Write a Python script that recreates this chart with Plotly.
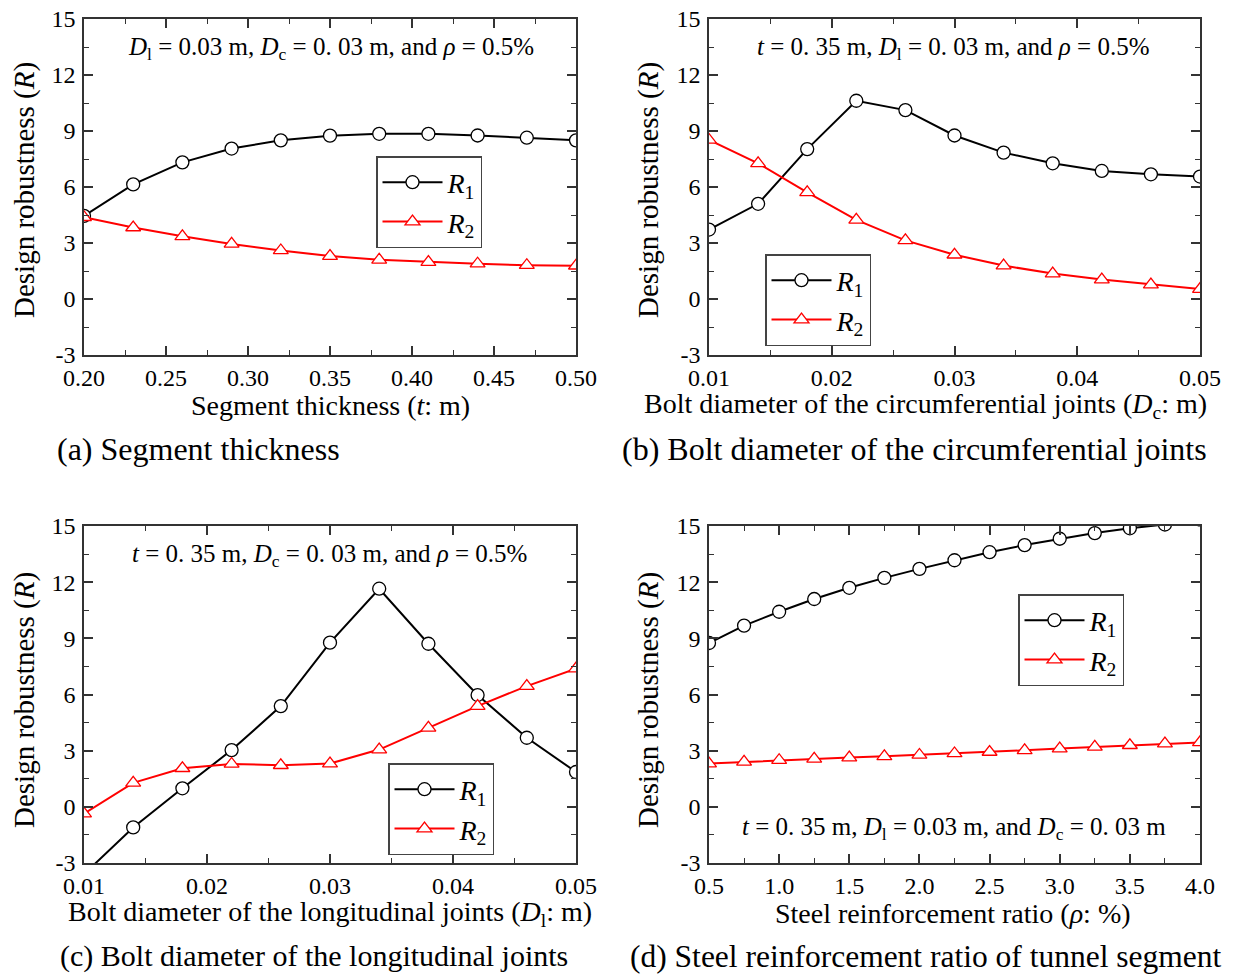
import plotly.graph_objects as go

W, H = 1238, 978

# ---------------- data ----------------
t_vals = [0.20, 0.23, 0.26, 0.29, 0.32, 0.35, 0.38, 0.41, 0.44, 0.47, 0.50]
a_R1 = [4.45, 6.14, 7.32, 8.06, 8.50, 8.75, 8.85, 8.85, 8.76, 8.64, 8.50]
a_R2 = [4.38, 3.83, 3.36, 2.95, 2.60, 2.30, 2.10, 1.98, 1.89, 1.81, 1.78]

dc_vals = [0.010, 0.014, 0.018, 0.022, 0.026, 0.030, 0.034, 0.038, 0.042, 0.046, 0.050]
b_R1 = [3.72, 5.10, 8.03, 10.62, 10.12, 8.76, 7.84, 7.27, 6.86, 6.68, 6.56]
b_R2 = [8.52, 7.27, 5.71, 4.24, 3.14, 2.37, 1.79, 1.36, 1.04, 0.77, 0.53]

dl_vals = [0.010, 0.014, 0.018, 0.022, 0.026, 0.030, 0.034, 0.038, 0.042, 0.046, 0.050]
c_R1 = [-3.6, -1.10, 0.99, 3.03, 5.38, 8.77, 11.65, 8.71, 5.97, 3.69, 1.86]
c_R2 = [-0.36, 1.28, 2.06, 2.29, 2.22, 2.31, 3.06, 4.22, 5.38, 6.45, 7.38]

rho_vals = [0.5, 0.75, 1.0, 1.25, 1.5, 1.75, 2.0, 2.25, 2.5, 2.75, 3.0, 3.25, 3.5, 3.75, 4.0]
d_R1 = [8.75, 9.68, 10.42, 11.10, 11.70, 12.23, 12.71, 13.17, 13.60, 13.98, 14.32, 14.62, 14.88, 15.08, 15.35]
d_R2 = [2.31, 2.40, 2.49, 2.56, 2.63, 2.70, 2.77, 2.85, 2.93, 3.02, 3.11, 3.20, 3.29, 3.38, 3.44]

y_range = [-3, 15]
y_tick_vals = [-3, 0, 3, 6, 9, 12, 15]
y_tick_text = ["-3", "0", "3", "6", "9", "12", "15"]
y_minor_step = 1.5

x_titles = [
    "Segment thickness (<i>t</i>: m)",
    "Bolt diameter of the circumferential joints (<i>D</i><sub>c</sub>: m)",
    "Bolt diameter of the longitudinal joints (<i>D</i><sub>l</sub>: m)",
    "Steel reinforcement ratio (<i>ρ</i>: %)",
]
y_title = "Design robustness (<i>R</i>)"
captions = [
    "(a) Segment thickness",
    "(b) Bolt diameter of the circumferential joints",
    "(c) Bolt diameter of the longitudinal joints",
    "(d) Steel reinforcement ratio of tunnel segment",
]
conditions = [
    "<i>D</i><sub>l</sub> = 0.03 m, <i>D</i><sub>c</sub> = 0. 03 m, and <i>ρ</i> = 0.5%",
    "<i>t</i> = 0. 35 m, <i>D</i><sub>l</sub> = 0. 03 m, and <i>ρ</i> = 0.5%",
    "<i>t</i> = 0. 35 m, <i>D</i><sub>c</sub> = 0. 03 m, and <i>ρ</i> = 0.5%",
    "<i>t</i> = 0. 35 m, <i>D</i><sub>l</sub> = 0.03 m, and <i>D</i><sub>c</sub> = 0. 03 m",
]
names = ["<i>R</i><sub>1</sub>", "<i>R</i><sub>2</sub>"]

# ---------------- layout helpers ----------------
FONT = "Liberation Serif, Times New Roman, serif"
AX = "#333333"

def px(x):
    return x / W

def py(y):
    return 1 - y / H

panels = [
    dict(x=t_vals, r1=a_R1, r2=a_R2, xr=[0.2, 0.5], dt=0.05, t0=0.2, mdt=0.025, fmt=".2f",
         xd=[84, 576], yd=[19, 355], xt=(330, 405), yt=(24, 190), cap=(55, 449), capsize=32,
         cond=(331, 48), leg=(376, 156)),
    dict(x=dc_vals, r1=b_R1, r2=b_R2, xr=[0.01, 0.05], dt=0.01, t0=0.01, mdt=0.005, fmt=".2f",
         xd=[709, 1200], yd=[19, 355], xt=(925, 405), yt=(648, 190), cap=(620, 449), capsize=32,
         cond=(953, 48), leg=(765, 254)),
    dict(x=dl_vals, r1=c_R1, r2=c_R2, xr=[0.01, 0.05], dt=0.01, t0=0.01, mdt=0.005, fmt=".2f",
         xd=[84, 576], yd=[526, 863], xt=(330, 913), yt=(24, 700), cap=(58, 956), capsize=30,
         cond=(329, 555), leg=(388, 763)),
    dict(x=rho_vals, r1=d_R1, r2=d_R2, xr=[0.5, 4.0], dt=0.5, t0=0.5, mdt=0.25, fmt=".1f",
         xd=[709, 1200], yd=[526, 863], xt=(953, 913), yt=(648, 700), cap=(628, 956), capsize=31.5,
         cond=(954, 828), leg=(1018, 594)),
]

fig = go.Figure()
annotations = []
layout = dict(
    width=W, height=H,
    margin=dict(l=0, r=0, t=0, b=0, autoexpand=False),
    paper_bgcolor="white", plot_bgcolor="white",
    font=dict(family=FONT, color="black", size=24),
    showlegend=True,
)

for i, p in enumerate(panels):
    k = "" if i == 0 else str(i + 1)
    xa, ya = "x" + k, "y" + k
    leg = "legend" + k
    fig.add_trace(go.Scatter(
        x=p["x"], y=p["r1"], mode="lines+markers", name=names[0],
        xaxis=xa, yaxis=ya, legend=leg,
        line=dict(color="black", width=2),
        marker=dict(symbol="circle", size=13, color="white", line=dict(color="black", width=1.3)),
    ))
    fig.add_trace(go.Scatter(
        x=p["x"], y=p["r2"], mode="lines+markers", name=names[1],
        xaxis=xa, yaxis=ya, legend=leg,
        line=dict(color="#ff0000", width=2),
        marker=dict(symbol="triangle-up", size=13, color="white", line=dict(color="#ff0000", width=1.3)),
    ))
    common = dict(
        showline=True, linecolor=AX, linewidth=1.5, mirror="allticks",
        ticks="inside", ticklen=9, tickwidth=1.5, tickcolor=AX,
        showgrid=False, zeroline=False, automargin=False,
        tickfont=dict(family=FONT, size=24, color="black"),
    )
    layout["xaxis" + k] = dict(
        common, domain=[px(p["xd"][0]), px(p["xd"][1])], anchor=ya,
        range=p["xr"], tick0=p["t0"], dtick=p["dt"], tickformat=p["fmt"],
        minor=dict(ticks="inside", ticklen=5, tickwidth=1.2, tickcolor=AX, dtick=p["mdt"], tick0=p["t0"]),
    )
    layout["yaxis" + k] = dict(
        common, domain=[py(p["yd"][1]), py(p["yd"][0])], anchor=xa,
        range=y_range, tickmode="array", tickvals=y_tick_vals, ticktext=y_tick_text,
        minor=dict(ticks="inside", ticklen=5, tickwidth=1.2, tickcolor=AX, dtick=y_minor_step, tick0=0),
        ticklabelstandoff=2,
    )
    layout[leg] = dict(
        x=px(p["leg"][0]), y=py(p["leg"][1]), xanchor="left", yanchor="top",
        bgcolor="white", bordercolor="#444444", borderwidth=1.5,
        font=dict(family=FONT, size=28, color="black"),
        itemwidth=60, tracegroupgap=0,
    )
    annotations.append(dict(
        text=x_titles[i], x=px(p["xt"][0]), y=py(p["xt"][1]), xref="paper", yref="paper",
        xanchor="center", yanchor="middle", showarrow=False,
        font=dict(family=FONT, size=28, color="black"),
    ))
    annotations.append(dict(
        text=y_title, x=px(p["yt"][0]), y=py(p["yt"][1]), xref="paper", yref="paper",
        xanchor="center", yanchor="middle", showarrow=False, textangle=-90,
        font=dict(family=FONT, size=29, color="black"),
    ))
    annotations.append(dict(
        text=captions[i], x=px(p["cap"][0]), y=py(p["cap"][1]), xref="paper", yref="paper",
        xanchor="left", yanchor="middle", showarrow=False,
        font=dict(family=FONT, size=p["capsize"], color="black"),
    ))
    annotations.append(dict(
        text=conditions[i], x=px(p["cond"][0]), y=py(p["cond"][1]), xref="paper", yref="paper",
        xanchor="center", yanchor="middle", showarrow=False,
        font=dict(family=FONT, size=25, color="black"),
    ))

layout["annotations"] = annotations
fig.update_layout(**layout)
fig.write_html(
    "out.html",
    config={"displayModeBar": False},
    post_script="document.body.style.margin='0px';document.body.style.overflow='hidden';",
)
